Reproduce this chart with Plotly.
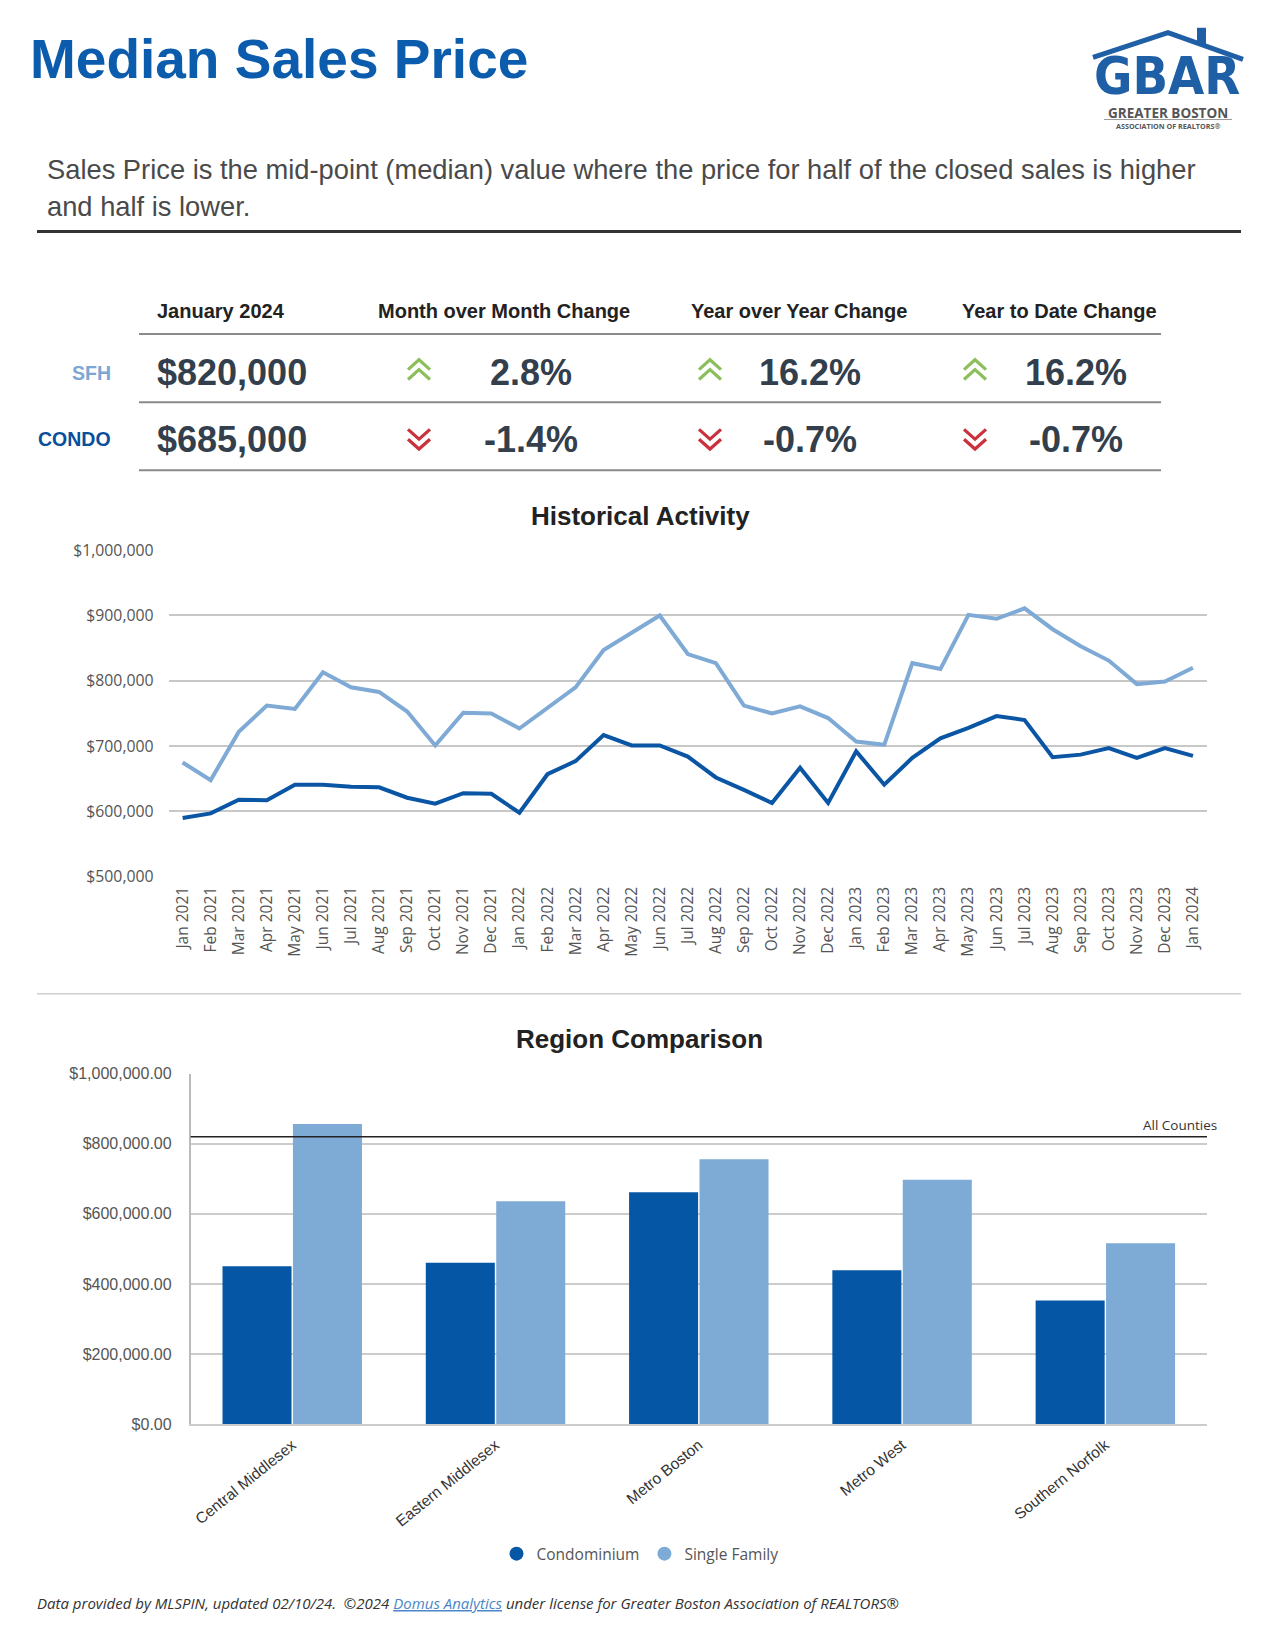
import plotly.graph_objects as go

W, H = 1280, 1644

# ---------------- data ----------------
months = ["Jan 2021", "Feb 2021", "Mar 2021", "Apr 2021", "May 2021", "Jun 2021", "Jul 2021",
          "Aug 2021", "Sep 2021", "Oct 2021", "Nov 2021", "Dec 2021",
          "Jan 2022", "Feb 2022", "Mar 2022", "Apr 2022", "May 2022", "Jun 2022", "Jul 2022",
          "Aug 2022", "Sep 2022", "Oct 2022", "Nov 2022", "Dec 2022",
          "Jan 2023", "Feb 2023", "Mar 2023", "Apr 2023", "May 2023", "Jun 2023", "Jul 2023",
          "Aug 2023", "Sep 2023", "Oct 2023", "Nov 2023", "Dec 2023", "Jan 2024"]
sfh_price = [675000, 648000, 722000, 762000, 757000, 813000, 790000, 783000, 753000, 701000, 751000, 750000,
             727000, 758000, 790000, 847000, 873000, 900000, 841000, 827000, 762000, 750000, 761000, 743000,
             707000, 702000, 827000, 818000, 901000, 895000, 911000, 879000, 853000, 831000, 795000, 799000,
             820000]
condo_price = [590000, 597000, 618000, 617000, 641000, 641000, 638000, 637000, 621000, 612000, 628000, 627000,
               598000, 657000, 677000, 717000, 701000, 701000, 684000, 652000, 633000, 613000, 667000, 613000,
               692000, 641000, 682000, 712000, 728000, 746000, 740000, 683000, 687000, 697000, 682000, 697000,
               685000]

regions = ["Central Middlesex", "Eastern Middlesex", "Metro Boston", "Metro West", "Southern Norfolk"]
condo_region = [451000, 461000, 662000, 439000, 353000]
single_family_region = [856000, 636000, 756000, 697000, 516000]
all_counties = 820000

table_headers = ["January 2024", "Month over Month Change", "Year over Year Change", "Year to Date Change"]
row_labels = ["SFH", "CONDO"]
row_values = ["$820,000", "$685,000"]
mom_change = ["2.8%", "-1.4%"]
yoy_change = ["16.2%", "-0.7%"]
ytd_change = ["16.2%", "-0.7%"]

# ---------------- styles ----------------
DARK = "#0a55a4"
LIGHT = "#7eaad5"
TITLE_BLUE = "#0b5cad"
ARIAL = "Liberation Sans, Arial, sans-serif"
OPEN = "Open Sans, sans-serif"


def X(px):
    return px / W


def Y(py):
    return 1 - py / H


annotations = []
shapes = []


def text(x, y, s, size, color="#222", family=ARIAL, xanchor="left", yanchor="middle", **kw):
    annotations.append(dict(x=X(x), y=Y(y), xref="paper", yref="paper", text=s, showarrow=False,
                            xanchor=xanchor, yanchor=yanchor,
                            font=dict(size=size, color=color, family=family), **kw))


def hline(x0, x1, y, color, width):
    shapes.append(dict(type="line", xref="paper", yref="paper", x0=X(x0), x1=X(x1), y0=Y(y), y1=Y(y),
                       line=dict(color=color, width=width)))


def chevrons(cx, cy, up, color):
    hw, h = 11, 10
    parts = []
    for k in (0, 1):
        ty = cy - h + k * h
        if up:
            pts = [(cx - hw, ty + h), (cx, ty), (cx + hw, ty + h)]
        else:
            pts = [(cx - hw, ty), (cx, ty + h), (cx + hw, ty)]
        parts.append("M {} {} L {} {} L {} {}".format(X(pts[0][0]), Y(pts[0][1]), X(pts[1][0]), Y(pts[1][1]),
                                                   X(pts[2][0]), Y(pts[2][1])))
    shapes.append(dict(type="path", xref="paper", yref="paper", path=" ".join(parts),
                       line=dict(color=color, width=3.2)))


# ---------------- header ----------------
text(28, 49, "<b>Median Sales Price</b>", 55, TITLE_BLUE)
text(45, 161, "Sales Price is the mid-point (median) value where the price for half of the closed sales is higher",
     27.3, "#4a4a4a")
text(45, 198, "and half is lower.", 27.3, "#4a4a4a")
hline(37, 1241, 223.5, "#333333", 3)

# logo
LOGO_BLUE = "#1f5fa6"
shapes.append(dict(type="path", xref="paper", yref="paper",
                   path="M {} {} L {} {} L {} {}".format(X(1093), Y(47), X(1168), Y(22), X(1243), Y(49)),
                   line=dict(color=LOGO_BLUE, width=5)))
shapes.append(dict(type="rect", xref="paper", yref="paper", x0=X(1197), x1=X(1206), y0=Y(17), y1=Y(34),
                   fillcolor=LOGO_BLUE, line=dict(width=0)))
text(1167, 66, "<b>GBAR</b>", 52, LOGO_BLUE, family="Liberation Sans Narrow, DejaVu Sans Condensed, Arial",
     xanchor="center")
text(1168, 103, "<b>GREATER BOSTON</b>", 13.5, "#555555", family=OPEN, xanchor="center")
hline(1104, 1232, 110, "#999999", 1)
text(1168, 117, "<b>ASSOCIATION OF REALTORS®</b>", 7.2, "#555555", family=OPEN, xanchor="center")

# ---------------- table ----------------
text(155, 304, "<b>" + table_headers[0] + "</b>", 20, "#222")
for hdr, cx in zip(table_headers[1:], [503.5, 798.5, 1059.5]):
    text(cx, 304, "<b>" + hdr + "</b>", 20, "#222", xanchor="center")
for yy in (327.5, 396.5, 465.5):
    hline(139, 1161, yy, "#8a8a8a", 2)

row_y = [366.5, 434]
label_colors = ["#7ca6d3", "#0a4f9b"]
for i in range(2):
    text(113, row_y[i], "<b>" + row_labels[i] + "</b>", 19.5, label_colors[i], xanchor="right")
    text(155, row_y[i], "<b>" + row_values[i] + "</b>", 36, "#333f4c")
    for val, ax, tx in zip([mom_change[i], yoy_change[i], ytd_change[i]], [419, 710, 975], [531, 810, 1076]):
        up = not val.startswith("-")
        chevrons(ax, row_y[i] - 3 if up else row_y[i], up, "#8cbf5c" if up else "#c9323d")
        text(tx, row_y[i], "<b>" + val + "</b>", 36, "#333f4c", xanchor="center")

# ---------------- section titles / separators ----------------
text(640, 511.5, "<b>Historical Activity</b>", 26, "#222", xanchor="center")
hline(37, 1241, 996, "#cfcfcf", 1.5)
text(639, 1042, "<b>Region Comparison</b>", 26, "#222", xanchor="center")

# footer
text(35, 1613.5, "<i>Data provided by MLSPIN, updated 02/10/24.&nbsp; ©2024 "
                 "<span style='color:#4a86c8;text-decoration:underline'>Domus Analytics</span>"
                 " under license for Greater Boston Association of REALTORS®</i>",
     15, "#333", family=OPEN)

# ---------------- figure ----------------
fig = go.Figure()

fig.add_trace(go.Scatter(x=months, y=sfh_price, mode="lines", line=dict(color=LIGHT, width=4),
                         name="SFH", showlegend=False, xaxis="x", yaxis="y"))
fig.add_trace(go.Scatter(x=months, y=condo_price, mode="lines", line=dict(color=DARK, width=4),
                         name="CONDO", showlegend=False, xaxis="x", yaxis="y"))

fig.add_trace(go.Bar(x=regions, y=condo_region, marker=dict(color="#0656a6", line=dict(width=0)),
                     name="Condominium", showlegend=False, xaxis="x2", yaxis="y2"))
fig.add_trace(go.Bar(x=regions, y=single_family_region, marker=dict(color="#7eabd5", line=dict(width=0)),
                     name="Single Family", showlegend=False, xaxis="x2", yaxis="y2"))

# legend entries (circle symbols)
fig.add_trace(go.Scatter(x=[None], y=[None], mode="markers", marker=dict(color="#0656a6", size=14),
                         name="Condominium", xaxis="x2", yaxis="y2"))
fig.add_trace(go.Scatter(x=[None], y=[None], mode="markers", marker=dict(color="#7eabd5", size=14),
                         name="Single Family", xaxis="x2", yaxis="y2"))

# All Counties reference line
shapes.append(dict(type="line", xref="x2 domain", yref="y2", x0=0, x1=1, y0=all_counties, y1=all_counties,
                   line=dict(color="#222", width=1.5)))
annotations.append(dict(xref="x2 domain", yref="y2", x=1.012, y=all_counties, text="All Counties",
                        showarrow=False, xanchor="right", yanchor="bottom", yshift=1,
                        font=dict(family=OPEN, size=13.5, color="#333")))

fig.update_layout(
    width=W, height=H,
    margin=dict(l=0, r=0, t=0, b=0),
    paper_bgcolor="white", plot_bgcolor="white",
    font=dict(family=OPEN, color="#555"),
    barmode="group", bargap=0.307, bargroupgap=0.02,
    xaxis=dict(domain=[X(168.6), X(1207)], anchor="y", type="category", categoryorder="array",
               categoryarray=months, range=[-0.5, len(months) - 0.5], tickangle=-90, showgrid=False,
               showline=False, ticks="", tickfont=dict(family=OPEN, size=15.5, color="#555"),
               ticklabelstandoff=6, fixedrange=True),
    yaxis=dict(domain=[Y(877.5), Y(546.5)], anchor="x", range=[500000, 1000000], dtick=100000,
               tickformat="$,.0f", showgrid=True, gridcolor="#c8c8c8", gridwidth=1.5, zeroline=False,
               showline=False, ticks="", tickfont=dict(family=OPEN, size=15.8, color="#555"),
               ticklabelstandoff=14, fixedrange=True),
    xaxis2=dict(domain=[X(190.6), X(1207)], anchor="y2", type="category", tickangle=-39, showgrid=False,
                showline=True, linecolor="#cccccc", linewidth=1.5, ticks="",
                tickfont=dict(family=ARIAL, size=15.5, color="#333"), ticklabelstandoff=4, fixedrange=True),
    yaxis2=dict(domain=[Y(1432.5), Y(1077)], anchor="x2", range=[0, 1000000], dtick=200000,
                tickformat="$,.2f", showgrid=True, gridcolor="#cccccc", gridwidth=1.5, zeroline=False,
                showline=True, linecolor="#bbbbbb", linewidth=1.5, ticks="",
                tickfont=dict(family=ARIAL, size=16, color="#555"), ticklabelstandoff=14, fixedrange=True),
    legend=dict(orientation="h", x=0.5, xanchor="center", y=Y(1564), yanchor="middle",
                font=dict(family=OPEN, size=15.5, color="#555"), bgcolor="rgba(0,0,0,0)"),
    annotations=annotations,
    shapes=shapes,
)

fig.write_html("out.html", config={"displayModeBar": False},
               post_script="document.body.style.margin='0';document.body.style.overflow='hidden';")
